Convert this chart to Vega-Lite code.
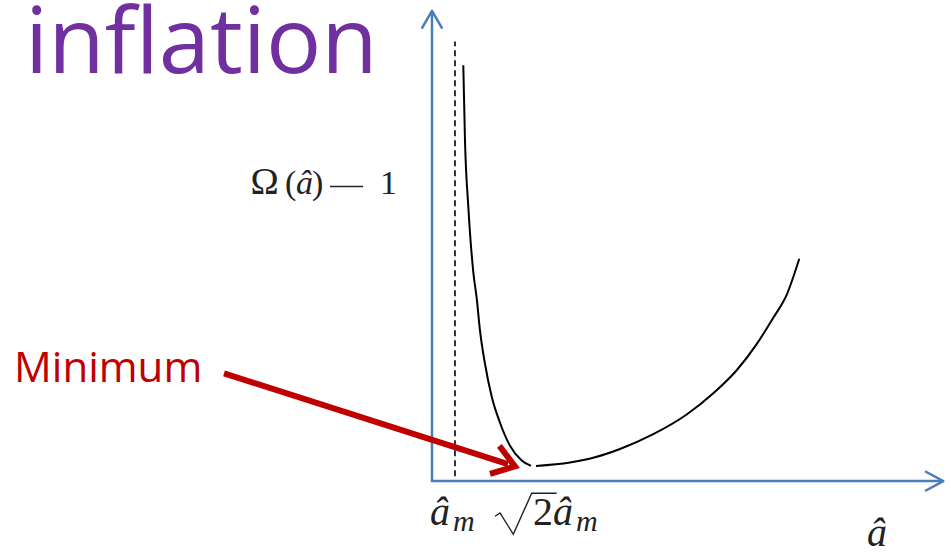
{
  "$schema": "https://vega.github.io/schema/vega-lite/v6.json",
  "width": 951,
  "height": 555,
  "autosize": {"type": "fit", "contains": "padding"},
  "padding": 0,
  "background": "#ffffff",
  "config": {"view": {"stroke": null}},
  "datasets": {
    "axes": [
      {"part": "yshaft", "o": 0, "x": 0, "y": -0.02},
      {"part": "yshaft", "o": 1, "x": 0, "y": 9.98},
      {"part": "yhead", "o": 0, "x": -0.2016, "y": 9.623},
      {"part": "yhead", "o": 1, "x": 0, "y": 10},
      {"part": "yhead", "o": 2, "x": 0.2016, "y": 9.623},
      {"part": "xshaft", "o": 0, "x": -0.02, "y": 0},
      {"part": "xshaft", "o": 1, "x": 9.98, "y": 0},
      {"part": "xhead", "o": 0, "x": 9.648, "y": 0.21},
      {"part": "xhead", "o": 1, "x": 10.006, "y": 0},
      {"part": "xhead", "o": 2, "x": 9.648, "y": -0.21}
    ],
    "dashed": [
      {"o": 0, "x": 0.45, "y": 0.105},
      {"o": 1, "x": 0.45, "y": 9.351}
    ],
    "curve": [
      {"seg": "left", "x": 0.6125, "y": 8.843},
      {"seg": "left", "x": 0.6458, "y": 7.238},
      {"seg": "left", "x": 0.7104, "y": 5.843},
      {"seg": "left", "x": 0.8082, "y": 4.45},
      {"seg": "left", "x": 0.8748, "y": 3.891},
      {"seg": "left", "x": 0.9393, "y": 3.201},
      {"seg": "left", "x": 1.0372, "y": 2.496},
      {"seg": "left", "x": 1.1683, "y": 1.799},
      {"seg": "left", "x": 1.3307, "y": 1.241},
      {"seg": "left", "x": 1.5264, "y": 0.753},
      {"seg": "left", "x": 1.7554, "y": 0.439},
      {"seg": "left", "x": 1.9374, "y": 0.324},
      {"seg": "right", "x": 2.0352, "y": 0.324},
      {"seg": "right", "x": 2.7006, "y": 0.397},
      {"seg": "right", "x": 3.19, "y": 0.508},
      {"seg": "right", "x": 3.679, "y": 0.684},
      {"seg": "right", "x": 4.331, "y": 0.998},
      {"seg": "right", "x": 4.984, "y": 1.416},
      {"seg": "right", "x": 5.505, "y": 1.868},
      {"seg": "right", "x": 5.963, "y": 2.358},
      {"seg": "right", "x": 6.354, "y": 2.914},
      {"seg": "right", "x": 6.679, "y": 3.473},
      {"seg": "right", "x": 6.941, "y": 3.96},
      {"seg": "right", "x": 7.188, "y": 4.728}
    ],
    "thin": [
      {"part": "minus", "o": 0, "x": -1.996, "y": 6.266},
      {"part": "minus", "o": 1, "x": -1.35, "y": 6.266},
      {"part": "radical", "o": 0, "x": 1.233, "y": -0.747},
      {"part": "radical", "o": 1, "x": 1.331, "y": -0.676},
      {"part": "radical", "o": 2, "x": 1.591, "y": -1.13},
      {"part": "radical", "o": 3, "x": 1.951, "y": -0.257},
      {"part": "radical", "o": 4, "x": 2.44, "y": -0.257}
    ],
    "arrow": [
      {"part": "shaft", "o": 0, "x": -4.07, "y": 2.291},
      {"part": "shaft", "o": 1, "x": 1.487, "y": 0.362},
      {"part": "head", "o": 0, "x": 1.135, "y": 0.155},
      {"part": "head", "o": 1, "x": 1.624, "y": 0.314},
      {"part": "head", "o": 2, "x": 1.319, "y": 0.749}
    ],
    "title": [{"t": "inflation", "x": -7.965, "y": 8.682}],
    "minimum": [{"t": "Minimum", "x": -8.18, "y": 2.113}],
    "serifOmega": [
      {"t": "Ω", "x": -3.55, "y": 6.109}
    ],
    "serifUp34": [
      {"t": "(", "x": -2.877, "y": 6.109},
      {"t": ")", "x": -2.348, "y": 6.109},
      {"t": "1", "x": -1.018, "y": 6.109}
    ],
    "serifIt34": [
      {"t": "â", "x": -2.661, "y": 6.109}
    ],
    "serifUp40": [
      {"t": "2", "x": 1.977, "y": -0.941}
    ],
    "serifIt30": [
      {"t": "m", "x": 0.411, "y": -1.06},
      {"t": "m", "x": 2.818, "y": -1.06}
    ],
    "serifIt40": [
      {"t": "â", "x": -0.04, "y": -0.941},
      {"t": "â", "x": 2.368, "y": -0.941},
      {"t": "â", "x": 8.513, "y": -1.381}
    ]
  },
  "encoding": {
    "x": {"field": "x", "type": "quantitative", "axis": null, "scale": {"domain": [-8.454, 10.157], "nice": false, "zero": false}},
    "y": {"field": "y", "type": "quantitative", "axis": null, "scale": {"domain": [-1.4435, 10.1674], "nice": false, "zero": false}}
  },
  "layer": [
    {
      "data": {"name": "axes"},
      "mark": {"type": "line", "color": "#4A7EBB", "strokeWidth": 2.5, "strokeCap": "butt", "strokeJoin": "round"},
      "encoding": {"detail": {"field": "part"}, "order": {"field": "o", "type": "quantitative"}}
    },
    {
      "data": {"name": "dashed"},
      "mark": {"type": "line", "color": "#000000", "strokeWidth": 1.6, "strokeDash": [6, 4]},
      "encoding": {"order": {"field": "o", "type": "quantitative"}}
    },
    {
      "data": {"name": "curve"},
      "mark": {"type": "line", "color": "#000000", "strokeWidth": 2, "interpolate": "monotone"},
      "encoding": {"detail": {"field": "seg"}}
    },
    {
      "data": {"name": "thin"},
      "mark": {"type": "line", "color": "#222222", "strokeWidth": 1.4},
      "encoding": {"detail": {"field": "part"}, "order": {"field": "o", "type": "quantitative"}}
    },
    {
      "data": {"name": "arrow"},
      "mark": {"type": "line", "color": "#C00000", "strokeWidth": 6, "strokeJoin": "miter", "strokeCap": "butt"},
      "encoding": {"detail": {"field": "part"}, "order": {"field": "o", "type": "quantitative"}}
    },
    {
      "data": {"name": "title"},
      "mark": {"type": "text", "font": "Open Sans", "fontSize": 92, "color": "#7030A0", "align": "left", "baseline": "alphabetic"},
      "encoding": {"text": {"field": "t"}}
    },
    {
      "data": {"name": "minimum"},
      "mark": {"type": "text", "font": "Open Sans", "fontSize": 42, "color": "#C00000", "align": "left", "baseline": "alphabetic"},
      "encoding": {"text": {"field": "t"}}
    },
    {
      "data": {"name": "serifOmega"},
      "mark": {"type": "text", "font": "Liberation Serif", "fontSize": 38, "color": "#222222", "align": "left", "baseline": "alphabetic"},
      "encoding": {"text": {"field": "t"}}
    },
    {
      "data": {"name": "serifUp34"},
      "mark": {"type": "text", "font": "Liberation Serif", "fontSize": 34, "color": "#222222", "align": "left", "baseline": "alphabetic"},
      "encoding": {"text": {"field": "t"}}
    },
    {
      "data": {"name": "serifIt34"},
      "mark": {"type": "text", "font": "Liberation Serif", "fontSize": 34, "fontStyle": "italic", "color": "#222222", "align": "left", "baseline": "alphabetic"},
      "encoding": {"text": {"field": "t"}}
    },
    {
      "data": {"name": "serifUp40"},
      "mark": {"type": "text", "font": "Liberation Serif", "fontSize": 40, "color": "#222222", "align": "left", "baseline": "alphabetic"},
      "encoding": {"text": {"field": "t"}}
    },
    {
      "data": {"name": "serifIt30"},
      "mark": {"type": "text", "font": "Liberation Serif", "fontSize": 30, "fontStyle": "italic", "color": "#222222", "align": "left", "baseline": "alphabetic"},
      "encoding": {"text": {"field": "t"}}
    },
    {
      "data": {"name": "serifIt40"},
      "mark": {"type": "text", "font": "Liberation Serif", "fontSize": 40, "fontStyle": "italic", "color": "#222222", "align": "left", "baseline": "alphabetic"},
      "encoding": {"text": {"field": "t"}}
    }
  ]
}
